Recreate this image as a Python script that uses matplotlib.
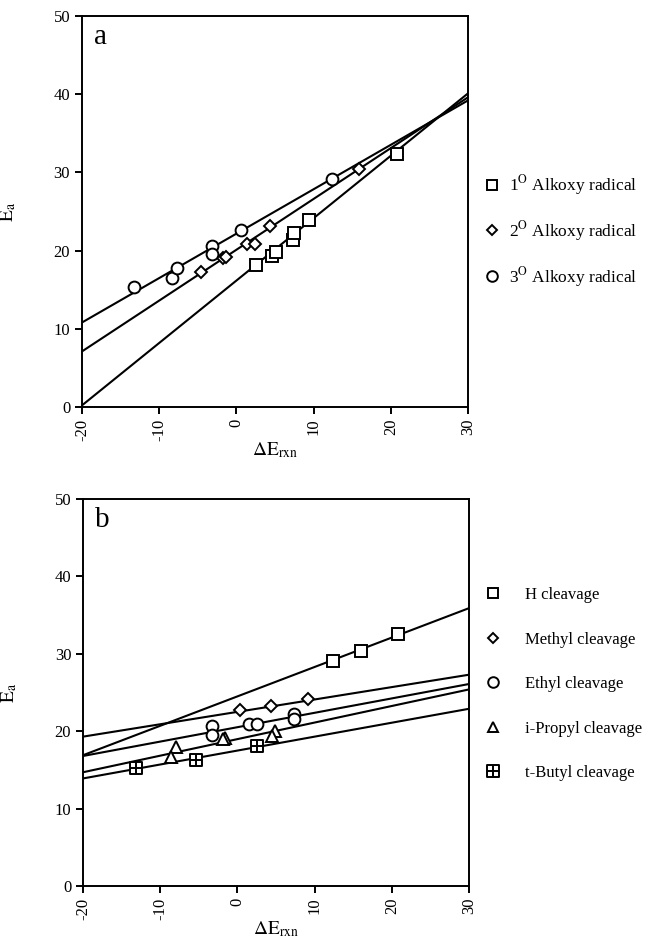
"""
Ea vs dE_rxn: alkoxy radical beta-scission (a) and cleavage type (b).
"""
import numpy as np
import matplotlib
matplotlib.use("Agg")
import matplotlib.pyplot as plt
from matplotlib.path import Path

plt.rcParams["font.family"] = ["Liberation Serif", "DejaVu Serif"]
plt.rcParams["mathtext.fontset"] = "stix"
plt.rcParams["axes.unicode_minus"] = False

# ---- panel a : alkoxy radicals ----
a_labels = ["1$^{\\rm O}$ Alkoxy radical", "2$^{\\rm O}$ Alkoxy radical",
            "3$^{\\rm O}$ Alkoxy radical"]
a_x = [
    [2.6, 4.6, 5.1, 7.3, 7.4, 9.4, 20.8],
    [-4.6, -1.7, -1.4, 1.4, 2.4, 4.3, 15.9],
    [-13.2, -8.4, -7.7, -3.2, -3.1, 0.6, 12.4],
]
a_y = [
    [18.1, 19.3, 19.8, 21.4, 22.2, 23.9, 32.4],
    [17.2, 19.0, 19.2, 20.9, 20.8, 23.2, 30.4],
    [15.3, 16.5, 17.8, 20.6, 19.5, 22.6, 29.1],
]
# fitted lines, read at x = -20 and x = 30
a_fit = [(0.2, 40.1), (7.1, 39.6), (10.8, 39.2)]

# ---- panel b : cleavage type ----
b_labels = ["H cleavage", "Methyl cleavage", "Ethyl cleavage",
            "i-Propyl cleavage", "t-Butyl cleavage"]
b_x = [
    [12.4, 16.0, 20.8],
    [0.3, 4.35, 9.15],
    [-3.25, -3.25, 1.5, 2.5, 7.3, 7.3],
    [-8.0, -8.6, -1.6, -1.9, 4.9, 4.5],
    [-13.2, -5.3, 2.6],
]
b_y = [
    [29.1, 30.4, 32.5],
    [22.8, 23.2, 24.1],
    [20.7, 19.5, 20.9, 20.9, 22.2, 21.6],
    [17.9, 16.7, 19.1, 19.0, 20.0, 19.4],
    [15.2, 16.3, 18.1],
]
b_fit = [(16.9, 35.9), (19.3, 27.3), (16.8, 26.1), (14.7, 25.4), (13.9, 22.9)]

fit_x = [-20, 30]

# square with a cross inside (t-Butyl)
boxplus = Path(
    [(-1, -1), (1, -1), (1, 1), (-1, 1), (-1, -1),
     (0, -1), (0, 1), (-1, 0), (1, 0)],
    [Path.MOVETO, Path.LINETO, Path.LINETO, Path.LINETO, Path.CLOSEPOLY,
     Path.MOVETO, Path.LINETO, Path.MOVETO, Path.LINETO],
)

a_markers = [("s", 8), ("D", 6), ("o", 8.5)]
b_markers = [("s", 8), ("D", 6), ("o", 8.5), ("^", 8.5), (boxplus, 9)]


def draw_panel(ax, xs, ys, fits, markers, labels, tag):
    for yy in fits:
        ax.plot(fit_x, yy, color="black", lw=1.5, zorder=2)
    for x, y, (m, ms), lab in zip(xs, ys, markers, labels):
        ax.plot(x, y, ls="none", marker=m, ms=ms, mfc="white", mec="black",
                mew=1.4, zorder=3, label=lab)
    ax.set_xlim(-20, 30)
    ax.set_ylim(0, 50)
    ax.set_xticks([-20, -10, 0, 10, 20, 30])
    ax.set_yticks([0, 10, 20, 30, 40, 50])
    ax.tick_params(direction="out", length=5, width=1.4, labelsize=12)
    ax.tick_params(axis="x", labelrotation=90)
    for s in ax.spines.values():
        s.set_linewidth(1.4)
    ax.set_xlabel(r"$\Delta\mathrm{E}_{\mathrm{rxn}}$", fontsize=14)
    ax.set_ylabel(r"$\mathrm{E}_{\mathrm{a}}$", fontsize=14)
    ax.yaxis.set_label_coords(-0.165, 0.5)
    ax.xaxis.set_label_coords(0.5, -0.085)
    ax.text(0.03, 0.945, tag, transform=ax.transAxes, fontsize=21,
            ha="left", va="center")


fig = plt.figure(figsize=(6.49, 9.44), dpi=100)
ax_a = fig.add_axes([0.1263, 0.5689, 0.5948, 0.4142])
ax_b = fig.add_axes([0.1279, 0.0614, 0.5948, 0.4100])

draw_panel(ax_a, a_x, a_y, a_fit, a_markers, a_labels, "a")
draw_panel(ax_b, b_x, b_y, b_fit, b_markers, b_labels, "b")

ax_a.legend(loc="center left", bbox_to_anchor=(1.04, 0.45), frameon=False,
            fontsize=12.5, handlelength=1.0, handletextpad=0.47,
            labelspacing=1.24, borderpad=0, borderaxespad=0,
            markerscale=0.9)
ax_b.legend(loc="center left", bbox_to_anchor=(1.041, 0.522), frameon=False,
            fontsize=12, handlelength=1.0, handletextpad=1.4,
            labelspacing=1.71, borderpad=0, borderaxespad=0,
            markerscale=0.9)

fig.savefig("out.png", dpi=100)
